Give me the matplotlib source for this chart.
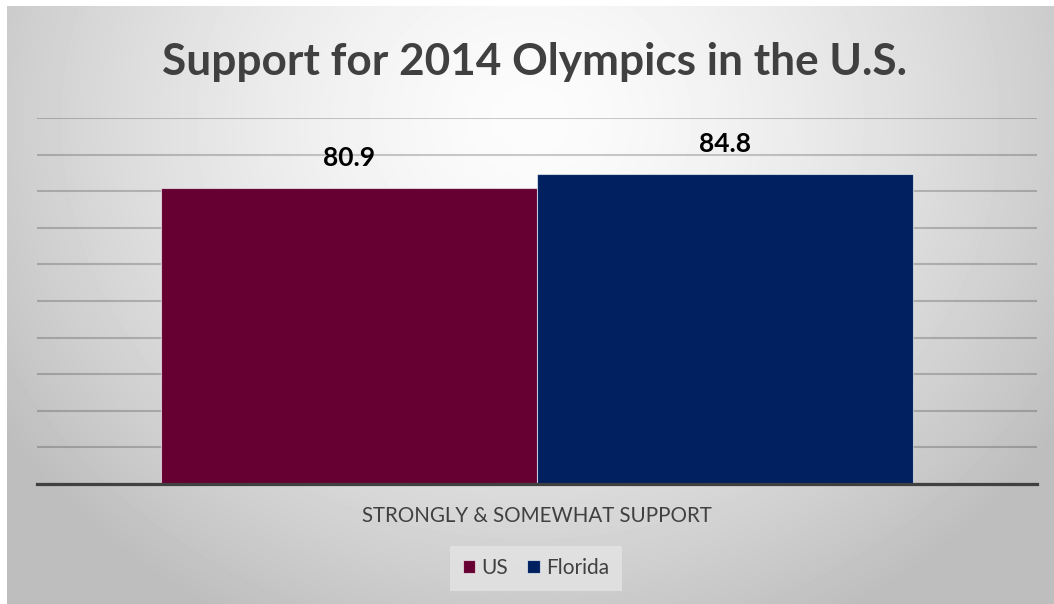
import numpy as np
import matplotlib.pyplot as plt

# survey result, percent of respondents
category = "STRONGLY & SOMEWHAT SUPPORT"
series = ["US", "Florida"]
values = [80.9, 84.8]
colors = ["#660033", "#002060"]
y_ticks = [0, 10, 20, 30, 40, 50, 60, 70, 80, 90, 100]

W, H = 1054, 604
plt.rcParams['font.family'] = ['Lato', 'DejaVu Sans']

fig = plt.figure(figsize=(W / 100, H / 100), dpi=100)

# soft radial background, white near the title and grey towards the edges
bg = fig.add_axes([0, 0, 1, 1], zorder=-5)
yy, xx = np.mgrid[0:H, 0:W]
d = np.sqrt(((xx - 530) / 560.0) ** 2 + ((yy - 120) / 500.0) ** 2)
shade = 252 - 52 * np.clip(d, 0, 1.2) ** 1.5
shade = np.clip(shade, 190, 255) / 255.0
shade[:6, :] = 1.0
shade[:, :7] = 1.0
bg.imshow(shade, cmap="gray", vmin=0, vmax=1, extent=(0, W, H, 0), aspect="auto",
          interpolation="bilinear")
bg.set_axis_off()

ax = fig.add_axes([37 / W, (H - 484) / H, 1000 / W, 366 / H])
ax.patch.set_alpha(0)

bar_w = 0.376
offsets = [-bar_w / 2, bar_w / 2]
for name, val, col, off in zip(series, values, colors, offsets):
    bars = ax.bar(off, val, width=bar_w, color=col, edgecolor=(1, 1, 1, 0.6),
                  linewidth=0.8, label=name, zorder=3)
    ax.bar_label(bars, labels=[f"{val:.1f}"], padding=13, fontsize=19,
                 fontweight="bold", color="black")

ax.set_xlim(-0.5, 0.5)
ax.set_ylim(0, 100)
ax.set_yticks(y_ticks)
ax.yaxis.grid(True, color="black", alpha=0.2, linewidth=1.5, zorder=0)
ax.tick_params(axis="y", left=False, labelleft=False)
ax.set_xticks([0])
ax.set_xticklabels([category], fontsize=14.8, color="#404040")
ax.tick_params(axis="x", length=0, pad=16)
for side in ["top", "right", "left"]:
    ax.spines[side].set_visible(False)
ax.spines["bottom"].set_color("#404040")
ax.spines["bottom"].set_linewidth(2.3)
ax.spines["bottom"].set_zorder(4)

fig.text(535 / W, 1 - 62 / H, "Support for 2014 Olympics in the U.S.",
         ha="center", va="center", fontsize=31.8, fontweight="bold", color="#404040")

leg = fig.legend(loc="center", bbox_to_anchor=(536 / W, 1 - 568 / H), ncol=2,
                 frameon=True, fancybox=False, fontsize=15, labelcolor="#404040",
                 handlelength=0.6, handleheight=0.6, handletextpad=0.3,
                 columnspacing=0.9, borderpad=0.6)
leg.get_frame().set_facecolor("#e4e4e4")
leg.get_frame().set_edgecolor("none")

fig.savefig("out.png", dpi=100)
